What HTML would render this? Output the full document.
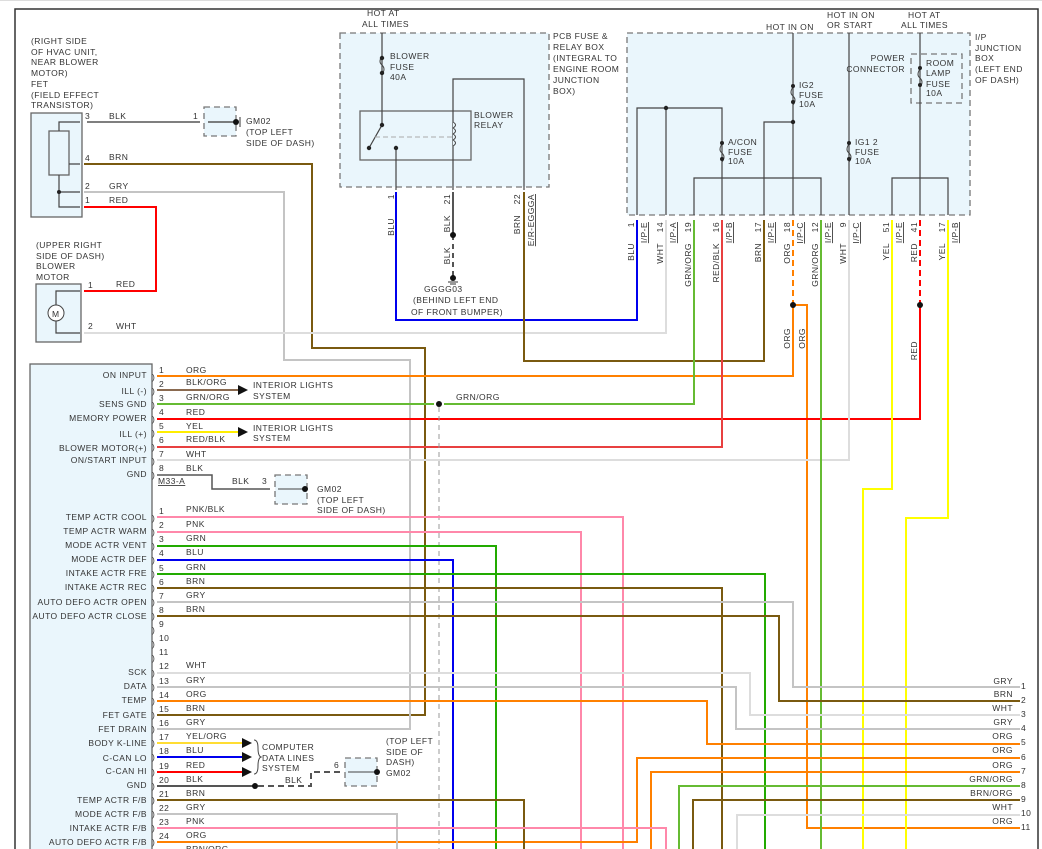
<!DOCTYPE html>
<html><head><meta charset="utf-8"><style>
html,body{margin:0;padding:0;background:#fff;}
svg{display:block;}
text{font-family:"Liberation Sans",sans-serif;font-size:8.5px;fill:#333;letter-spacing:0.45px;}
.w{fill:none;stroke-width:2;}
.b{fill:#eaf6fc;stroke:#666;stroke-width:1.3;}
.d{fill:#eaf6fc;stroke:#777;stroke-width:1.3;stroke-dasharray:6 4;}
.k{fill:none;stroke:#444;stroke-width:1.2;}
</style></head><body>
<svg width="1042" height="849" viewBox="0 0 1042 849" xmlns="http://www.w3.org/2000/svg">
<line x1="0" y1="0.5" x2="1042" y2="0.5" stroke="#ddd"/>
<path d="M15 849 V9 H1038 V849" fill="none" stroke="#333" stroke-width="1.5"/>

<!-- PCB box -->
<rect class="d" x="340" y="33" width="209" height="154"/>
<rect class="b" x="360" y="111" width="111" height="49"/>
<path class="k" d="M382 33 V125 L369 148 M396 148 V190 M453 190 V79 H524 V190"/>
<path d="M382 56 q-4 6 0 9 q4 4 0 9" fill="none" stroke="#444"/>
<path d="M453 122 q5 3 0 6 q5 3 0 6 q5 3 0 6 q5 3 0 6" fill="#eaf6fc" stroke="#444"/>
<line x1="375" y1="137" x2="455" y2="137" stroke="#aaa" stroke-dasharray="5 3"/>
<g fill="#222"><circle cx="382" cy="58" r="2.2"/><circle cx="382" cy="73" r="2.2"/><circle cx="382" cy="125" r="2.2"/><circle cx="369" cy="148" r="2.2"/><circle cx="396" cy="148" r="2.2"/></g>
<text x="367" y="16">HOT AT</text><text x="362" y="27">ALL TIMES</text>
<text x="390" y="59">BLOWER</text><text x="390" y="70">FUSE</text><text x="390" y="80">40A</text>
<text x="474" y="118">BLOWER</text><text x="474" y="128">RELAY</text>
<text x="553" y="39">PCB FUSE &amp;</text><text x="553" y="50">RELAY BOX</text><text x="553" y="61">(INTEGRAL TO</text><text x="553" y="72">ENGINE ROOM</text><text x="553" y="83">JUNCTION</text><text x="553" y="94">BOX)</text>

<!-- I/P junction box -->
<rect class="d" x="627" y="33" width="343" height="182"/>
<rect x="911" y="54" width="51" height="49" fill="none" stroke="#777" stroke-width="1.3" stroke-dasharray="6 4"/>
<path class="k" d="M637 215 V108 H722 V215 M666 108 V215 M793 33 V215 M793 122 H764 V215 M694 215 V178 H821 V215 M849 33 V215 M920 33 V215 M892 215 V178 H948 V215"/>
<g fill="none" stroke="#444"><path d="M722 144 q-4 6 0 9 q4 4 0 9"/><path d="M793 87 q-4 6 0 9 q4 4 0 9"/><path d="M849 144 q-4 6 0 9 q4 4 0 9"/><path d="M920 69 q-4 6 0 9 q4 4 0 9"/></g>
<g fill="#222"><circle cx="666" cy="108" r="2.2"/><circle cx="793" cy="122" r="2.2"/><circle cx="722" cy="143" r="2"/><circle cx="722" cy="159" r="2"/><circle cx="793" cy="86" r="2"/><circle cx="793" cy="102" r="2"/><circle cx="849" cy="143" r="2"/><circle cx="849" cy="159" r="2"/><circle cx="920" cy="68" r="2"/><circle cx="920" cy="85" r="2"/></g>
<text x="766" y="30">HOT IN ON</text><text x="827" y="18">HOT IN ON</text><text x="827" y="28">OR START</text><text x="908" y="18">HOT AT</text><text x="901" y="28">ALL TIMES</text>
<text x="799" y="88">IG2</text><text x="799" y="98">FUSE</text><text x="799" y="107">10A</text>
<text x="728" y="145">A/CON</text><text x="728" y="155">FUSE</text><text x="728" y="164">10A</text>
<text x="855" y="145">IG1 2</text><text x="855" y="155">FUSE</text><text x="855" y="164">10A</text>
<text x="905" y="61" text-anchor="end">POWER</text><text x="905" y="72" text-anchor="end">CONNECTOR</text>
<text x="926" y="66">ROOM</text><text x="926" y="76">LAMP</text><text x="926" y="87">FUSE</text><text x="926" y="96">10A</text>
<text x="975" y="40">I/P</text><text x="975" y="51">JUNCTION</text><text x="975" y="61">BOX</text><text x="975" y="72">(LEFT END</text><text x="975" y="83">OF DASH)</text>

<!-- FET -->
<rect class="b" x="31" y="113" width="51" height="104"/>
<rect class="b" x="49" y="131" width="20" height="44"/>
<path class="k" d="M59 131 V122 H80 M69 164 H80 M59 175 V207 H80 M59 192 H80"/>
<circle cx="59" cy="192" r="2" fill="#222"/>
<text x="31" y="44">(RIGHT SIDE</text><text x="31" y="55">OF HVAC UNIT,</text><text x="31" y="65">NEAR BLOWER</text><text x="31" y="76">MOTOR)</text><text x="31" y="87">FET</text><text x="31" y="98">(FIELD EFFECT</text><text x="31" y="108">TRANSISTOR)</text>
<text x="85" y="119">3</text><text x="85" y="161">4</text><text x="85" y="189">2</text><text x="85" y="203">1</text>
<text x="109" y="119">BLK</text><text x="109" y="160">BRN</text><text x="109" y="189">GRY</text><text x="109" y="203">RED</text>
<rect class="d" x="204" y="107" width="32" height="29"/>
<path d="M87 122 H200 M208 122 H236" stroke="#555" stroke-width="1.5" fill="none"/>
<circle cx="236" cy="122" r="3" fill="#111"/><line x1="240" y1="117" x2="240" y2="127" stroke="#333"/>
<text x="193" y="119">1</text><text x="246" y="124">GM02</text><text x="246" y="135">(TOP LEFT</text><text x="246" y="146">SIDE OF DASH)</text>

<!-- Blower motor -->
<rect class="b" x="36" y="284" width="45" height="58"/>
<circle cx="56" cy="313" r="8" fill="#fff" stroke="#444"/><text x="52" y="317">M</text>
<path class="k" d="M56 305 V291 H80 M56 321 V333 H80"/>
<text x="36" y="248">(UPPER RIGHT</text><text x="36" y="259">SIDE OF DASH)</text><text x="36" y="269">BLOWER</text><text x="36" y="280">MOTOR</text>
<text x="88" y="288">1</text><text x="88" y="329">2</text><text x="116" y="287">RED</text><text x="116" y="329">WHT</text>

<!-- Module box -->
<rect class="b" x="30" y="364" width="122" height="500"/>

<!-- wires top -->
<path class="w" stroke="#7a5a10" d="M84 164 H312 V348 H425 V715 H157"/>
<path class="w" stroke="#c4c4c4" d="M84 192 H284 V360 H410 V729 H157"/>
<path class="w" stroke="#ff0000" d="M84 207 H156 V291 H84"/>
<path class="w" stroke="#dddddd" d="M84 333 H666 V220"/>
<path class="w" stroke="#0000ee" d="M396 192 V320 H637 V220"/>
<path class="w" stroke="#7a5a10" d="M524 192 V361 H764 V220"/>
<path d="M453 192 V235" stroke="#555" stroke-width="2"/><path d="M453 235 V276" stroke="#555" stroke-width="2" stroke-dasharray="5 4"/>
<circle cx="453" cy="235" r="3" fill="#111"/><circle cx="453" cy="278" r="3" fill="#111"/>
<path d="M448 282 H458 M450 284 H456" stroke="#333"/>
<text x="424" y="292">GGGG03</text><text x="413" y="303">(BEHIND LEFT END</text><text x="411" y="315">OF FRONT BUMPER)</text>

<!-- junction downward wires -->
<path class="w" stroke="#ff8000" d="M157 376 H793 V305"/>
<path class="w" stroke="#ff8000" stroke-dasharray="6 4" d="M793 220 V305"/>
<path class="w" stroke="#ff8000" d="M793 305 H807 V828 H1020"/>
<circle cx="793" cy="305" r="3" fill="#111"/>
<path class="w" stroke="#66bb33" d="M157 404 H434 M444 404 H694 V220"/>
<path class="w" stroke="#ff0000" d="M157 419 H920 V305"/>
<path class="w" stroke="#ff0000" stroke-dasharray="6 4" d="M920 220 V305"/>
<circle cx="920" cy="305" r="3" fill="#111"/>
<path class="w" stroke="#e84040" d="M157 447 H722 V220"/>
<path class="w" stroke="#dddddd" d="M157 460 H849 V220"/>
<path class="w" stroke="#66bb33" d="M821 220 V849"/>
<path class="w" stroke="#ffff00" d="M892 220 V489 H863 V849"/>
<path class="w" stroke="#ffff00" d="M948 220 V518 H906 V849"/>
<circle cx="439" cy="404" r="3" fill="#111"/>
<line x1="439" y1="407" x2="439" y2="849" stroke="#999" stroke-dasharray="5 4"/>
<text x="456" y="400">GRN/ORG</text>

<!-- arrows pins 2,5 -->
<path class="w" stroke="#8a6a50" d="M157 390 H238"/><path class="w" stroke="#ffee00" d="M157 432 H238"/>
<path d="M238 385 L248 390 L238 395Z M238 427 L248 432 L238 437Z" fill="#111"/>
<text x="253" y="388">INTERIOR LIGHTS</text><text x="253" y="399">SYSTEM</text>
<text x="253" y="431">INTERIOR LIGHTS</text><text x="253" y="441">SYSTEM</text>
<!-- GND 8 -->
<path d="M157 475 H212 V489 H270" stroke="#555" stroke-width="1.5" fill="none"/>
<rect class="d" x="275" y="475" width="32" height="29"/>
<path d="M278 489 H305" stroke="#444"/><circle cx="305" cy="489" r="3" fill="#111"/>
<text x="158" y="484" text-decoration="underline">M33-A</text><text x="232" y="484">BLK</text><text x="262" y="484">3</text>
<text x="317" y="492">GM02</text><text x="317" y="503">(TOP LEFT</text><text x="317" y="513">SIDE OF DASH)</text>

<!-- block 2 wires -->
<path class="w" stroke="#ff88aa" d="M157 517 H623 V849"/>
<path class="w" stroke="#ff88aa" d="M157 532 H581 V849"/>
<path class="w" stroke="#22aa00" d="M157 546 H496 V849"/>
<path class="w" stroke="#0000ee" d="M157 560 H453 V849"/>
<path class="w" stroke="#22aa00" d="M157 574 H765 V849"/>
<path class="w" stroke="#7a5a10" d="M157 588 H722 V849"/>
<path class="w" stroke="#c4c4c4" d="M157 602 H793 V687 H1020"/>
<path class="w" stroke="#7a5a10" d="M157 616 H779 V701 H1020"/>
<path class="w" stroke="#dddddd" d="M157 673 H750 V715 H1020"/>
<path class="w" stroke="#c4c4c4" d="M157 687 H736 V729 H1020"/>
<path class="w" stroke="#ff8000" d="M157 701 H707 V744 H1020"/>
<path class="w" stroke="#ff8000" d="M157 842 H637 V758 H1020"/>
<path class="w" stroke="#ff8000" d="M651 849 V772 H1020"/>
<path class="w" stroke="#66bb33" d="M679 849 V786 H1020"/>
<path class="w" stroke="#7a5a10" d="M693 849 V800 H1020"/>
<path class="w" stroke="#dddddd" d="M737 849 V815 H1020"/>
<path class="w" stroke="#7a5a10" d="M157 800 H524 V849"/>
<path class="w" stroke="#c4c4c4" d="M157 814 H397 V849"/>
<path class="w" stroke="#ff88aa" d="M157 828 H666 V849"/>
<path class="w" stroke="#ffdd33" d="M157 743 H242"/><path class="w" stroke="#0000ee" d="M157 757 H242"/><path class="w" stroke="#ff0000" d="M157 772 H242"/>
<path d="M242 738 L252 743 L242 748Z M242 752 L252 757 L242 762Z M242 767 L252 772 L242 777Z" fill="#111"/>
<path d="M254 740 q4 0 4 8 q0 8 3 9 q-3 1 -3 9 q0 8 -4 8" fill="none" stroke="#444"/>
<text x="262" y="750">COMPUTER</text><text x="262" y="761">DATA LINES</text><text x="262" y="771">SYSTEM</text>
<path d="M157 786 H255" stroke="#555" stroke-width="2"/><circle cx="255" cy="786" r="3" fill="#111"/>
<path d="M258 786 H311 V772 H340" stroke="#555" stroke-width="2" stroke-dasharray="6 4" fill="none"/>
<rect class="d" x="345" y="758" width="32" height="28"/>
<path d="M348 772 H377" stroke="#444"/><circle cx="377" cy="772" r="3" fill="#111"/>
<text x="285" y="783">BLK</text><text x="334" y="768">6</text>
<text x="386" y="744">(TOP LEFT</text><text x="386" y="755">SIDE OF</text><text x="386" y="765">DASH)</text><text x="386" y="776">GM02</text>

<!-- left module labels -->
<g text-anchor="end">
<text x="147" y="378">ON INPUT</text><text x="147" y="394">ILL (-)</text><text x="147" y="407">SENS GND</text><text x="147" y="421">MEMORY POWER</text><text x="147" y="437">ILL (+)</text><text x="147" y="451">BLOWER MOTOR(+)</text><text x="147" y="463">ON/START INPUT</text><text x="147" y="477">GND</text>
<text x="147" y="520">TEMP ACTR COOL</text><text x="147" y="534">TEMP ACTR WARM</text><text x="147" y="548">MODE ACTR VENT</text><text x="147" y="562">MODE ACTR DEF</text><text x="147" y="576">INTAKE ACTR FRE</text><text x="147" y="590">INTAKE ACTR REC</text><text x="147" y="605">AUTO DEFO ACTR OPEN</text><text x="147" y="619">AUTO DEFO ACTR CLOSE</text>
<text x="147" y="675">SCK</text><text x="147" y="689">DATA</text><text x="147" y="703">TEMP</text><text x="147" y="718">FET GATE</text><text x="147" y="732">FET DRAIN</text><text x="147" y="746">BODY K-LINE</text><text x="147" y="761">C-CAN LO</text><text x="147" y="774">C-CAN HI</text><text x="147" y="788">GND</text><text x="147" y="803">TEMP ACTR F/B</text><text x="147" y="817">MODE ACTR F/B</text><text x="147" y="831">INTAKE ACTR F/B</text><text x="147" y="845">AUTO DEFO ACTR F/B</text>
</g>
<g>
<text x="159" y="373">1</text><text x="159" y="387">2</text><text x="159" y="401">3</text><text x="159" y="415">4</text><text x="159" y="429">5</text><text x="159" y="443">6</text><text x="159" y="457">7</text><text x="159" y="471">8</text>
<text x="159" y="514">1</text><text x="159" y="528">2</text><text x="159" y="542">3</text><text x="159" y="556">4</text><text x="159" y="571">5</text><text x="159" y="585">6</text><text x="159" y="599">7</text><text x="159" y="613">8</text><text x="159" y="627">9</text><text x="159" y="641">10</text><text x="159" y="655">11</text><text x="159" y="669">12</text><text x="159" y="684">13</text><text x="159" y="698">14</text><text x="159" y="712">15</text><text x="159" y="726">16</text><text x="159" y="740">17</text><text x="159" y="754">18</text><text x="159" y="769">19</text><text x="159" y="783">20</text><text x="159" y="797">21</text><text x="159" y="811">22</text><text x="159" y="825">23</text><text x="159" y="839">24</text>
<text x="186" y="373">ORG</text><text x="186" y="385">BLK/ORG</text><text x="186" y="400">GRN/ORG</text><text x="186" y="415">RED</text><text x="186" y="429">YEL</text><text x="186" y="442">RED/BLK</text><text x="186" y="457">WHT</text><text x="186" y="471">BLK</text>
<text x="186" y="512">PNK/BLK</text><text x="186" y="527">PNK</text><text x="186" y="541">GRN</text><text x="186" y="555">BLU</text><text x="186" y="570">GRN</text><text x="186" y="584">BRN</text><text x="186" y="598">GRY</text><text x="186" y="612">BRN</text>
<text x="186" y="668">WHT</text><text x="186" y="683">GRY</text><text x="186" y="697">ORG</text><text x="186" y="711">BRN</text><text x="186" y="725">GRY</text><text x="186" y="739">YEL/ORG</text><text x="186" y="753">BLU</text><text x="186" y="768">RED</text><text x="186" y="782">BLK</text><text x="186" y="796">BRN</text><text x="186" y="810">GRY</text><text x="186" y="824">PNK</text><text x="186" y="838">ORG</text><text x="186" y="852">BRN/ORG</text>
</g>
<g font-size="10">
<text x="152" y="380">)</text><text x="152" y="394">)</text><text x="152" y="408">)</text><text x="152" y="422">)</text><text x="152" y="436">)</text><text x="152" y="450">)</text><text x="152" y="464">)</text><text x="152" y="478">)</text>
<text x="152" y="521">)</text><text x="152" y="535">)</text><text x="152" y="549">)</text><text x="152" y="563">)</text><text x="152" y="577">)</text><text x="152" y="591">)</text><text x="152" y="605">)</text><text x="152" y="619">)</text><text x="152" y="633">)</text><text x="152" y="647">)</text><text x="152" y="661">)</text><text x="152" y="676">)</text><text x="152" y="690">)</text><text x="152" y="704">)</text><text x="152" y="718">)</text><text x="152" y="732">)</text><text x="152" y="746">)</text><text x="152" y="760">)</text><text x="152" y="775">)</text><text x="152" y="789">)</text><text x="152" y="803">)</text><text x="152" y="817">)</text><text x="152" y="831">)</text><text x="152" y="845">)</text>
</g>

<!-- right connector labels -->
<g text-anchor="end">
<text x="1013" y="684">GRY</text><text x="1013" y="697">BRN</text><text x="1013" y="711">WHT</text><text x="1013" y="725">GRY</text><text x="1013" y="739">ORG</text><text x="1013" y="753">ORG</text><text x="1013" y="768">ORG</text><text x="1013" y="782">GRN/ORG</text><text x="1013" y="796">BRN/ORG</text><text x="1013" y="810">WHT</text><text x="1013" y="824">ORG</text>
</g>
<g>
<text x="1021" y="689">1</text><text x="1021" y="703">2</text><text x="1021" y="717">3</text><text x="1021" y="731">4</text><text x="1021" y="745">5</text><text x="1021" y="760">6</text><text x="1021" y="774">7</text><text x="1021" y="788">8</text><text x="1021" y="802">9</text><text x="1021" y="816">10</text><text x="1021" y="830">11</text>
</g>

<!-- rotated pin labels -->
<g text-anchor="end">
<text transform="translate(394,194) rotate(-90)">1</text><text transform="translate(394,218) rotate(-90)">BLU</text>
<text transform="translate(450,194) rotate(-90)">21</text><text transform="translate(450,215) rotate(-90)">BLK</text><text transform="translate(450,247) rotate(-90)">BLK</text>
<text transform="translate(520,194) rotate(-90)">22</text><text transform="translate(520,215) rotate(-90)">BRN</text><text transform="translate(534,194) rotate(-90)" text-decoration="underline">E/R-EGGGA</text>
<text transform="translate(634,222) rotate(-90)">1</text><text transform="translate(634,243) rotate(-90)">BLU</text><text transform="translate(647,222) rotate(-90)" text-decoration="underline">I/P-E</text>
<text transform="translate(663,222) rotate(-90)">14</text><text transform="translate(663,243) rotate(-90)">WHT</text><text transform="translate(676,222) rotate(-90)" text-decoration="underline">I/P-A</text>
<text transform="translate(691,222) rotate(-90)">19</text><text transform="translate(691,243) rotate(-90)">GRN/ORG</text>
<text transform="translate(719,222) rotate(-90)">16</text><text transform="translate(719,243) rotate(-90)">RED/BLK</text><text transform="translate(732,222) rotate(-90)" text-decoration="underline">I/P-B</text>
<text transform="translate(761,222) rotate(-90)">17</text><text transform="translate(761,243) rotate(-90)">BRN</text><text transform="translate(774,222) rotate(-90)" text-decoration="underline">I/P-E</text>
<text transform="translate(790,222) rotate(-90)">18</text><text transform="translate(790,243) rotate(-90)">ORG</text><text transform="translate(803,222) rotate(-90)" text-decoration="underline">I/P-C</text>
<text transform="translate(818,222) rotate(-90)">12</text><text transform="translate(818,243) rotate(-90)">GRN/ORG</text><text transform="translate(831,222) rotate(-90)" text-decoration="underline">I/P-E</text>
<text transform="translate(846,222) rotate(-90)">9</text><text transform="translate(846,243) rotate(-90)">WHT</text><text transform="translate(859,222) rotate(-90)" text-decoration="underline">I/P-C</text>
<text transform="translate(889,222) rotate(-90)">51</text><text transform="translate(889,243) rotate(-90)">YEL</text><text transform="translate(902,222) rotate(-90)" text-decoration="underline">I/P-E</text>
<text transform="translate(917,222) rotate(-90)">41</text><text transform="translate(917,243) rotate(-90)">RED</text>
<text transform="translate(945,222) rotate(-90)">17</text><text transform="translate(945,243) rotate(-90)">YEL</text><text transform="translate(958,222) rotate(-90)" text-decoration="underline">I/P-B</text>
<text transform="translate(790,328) rotate(-90)">ORG</text><text transform="translate(805,328) rotate(-90)">ORG</text><text transform="translate(917,341) rotate(-90)">RED</text>
</g>
</svg>
</body></html>
